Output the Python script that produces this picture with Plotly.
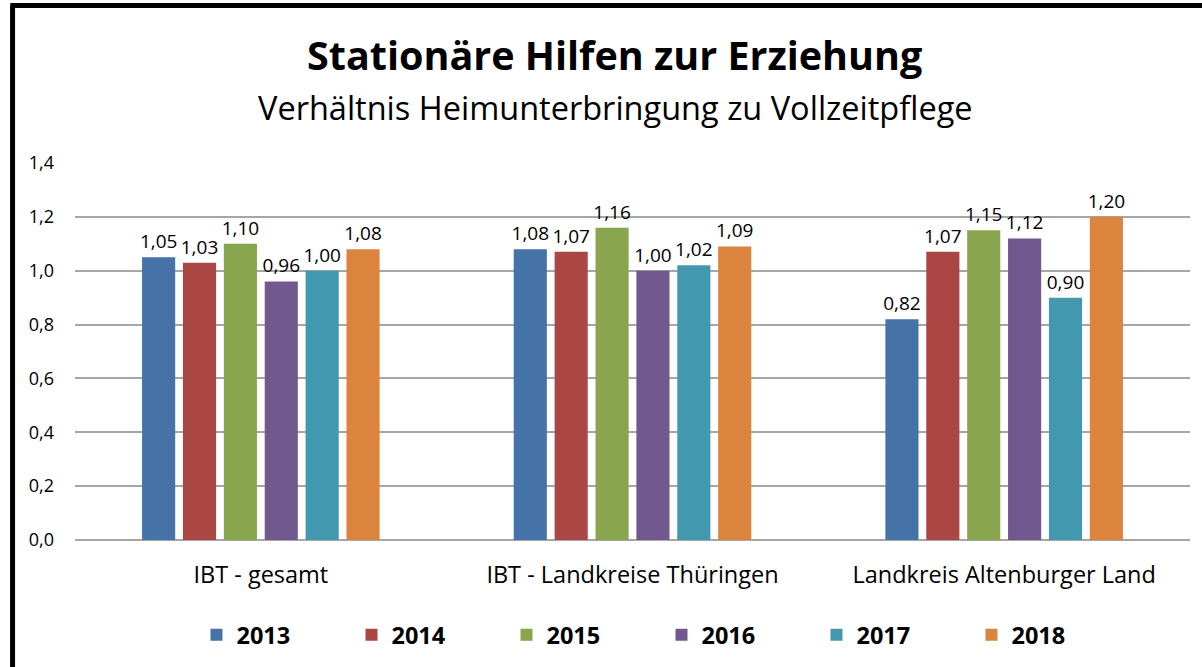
import plotly.graph_objects as go

categories = ["IBT - gesamt", "IBT - Landkreise Thüringen", "Landkreis Altenburger Land"]
years = ["2013", "2014", "2015", "2016", "2017", "2018"]
values = {
    "2013": [1.05, 1.08, 0.82],
    "2014": [1.03, 1.07, 1.07],
    "2015": [1.10, 1.16, 1.15],
    "2016": [0.96, 1.00, 1.12],
    "2017": [1.00, 1.02, 0.90],
    "2018": [1.08, 1.09, 1.20],
}
colors = {"2013": "#4572A7", "2014": "#AA4643", "2015": "#89A54E",
          "2016": "#71588F", "2017": "#4198AF", "2018": "#DB843D"}
y_ticks = [0, 0.2, 0.4, 0.6, 0.8, 1.0, 1.2, 1.4]

font = "Open Sans, Noto Sans, sans-serif"

fig = go.Figure()
for yr in years:
    vals = values[yr]
    fig.add_trace(go.Bar(
        x=categories, y=vals, name=f"<b>{yr}</b>",
        marker=dict(color=colors[yr], line=dict(width=0)),
        text=[f"{v:.2f}".replace(".", ",") for v in vals],
        textposition="outside", cliponaxis=False, constraintext="none",
        textfont=dict(size=19, color="#000000", family=font),
    ))

fig.update_layout(
    width=1202, height=667,
    barmode="group", bargap=0.34, bargroupgap=0.19,
    paper_bgcolor="white", plot_bgcolor="white",
    margin=dict(l=75, r=12, t=163, b=127, autoexpand=False),
    font=dict(family=font, color="#000000"),
    xaxis=dict(tickfont=dict(size=23.5, family=font), showline=False, ticks="",
               ticklabelstandoff=18, automargin=False),
    yaxis=dict(
        range=[0, 1.4], tickvals=y_ticks,
        ticktext=[f"{t:.1f}".replace(".", ",") for t in y_ticks],
        tickfont=dict(size=18, family=font),
        showgrid=True, gridcolor="#a6a6a6", gridwidth=1.5,
        zeroline=True, zerolinecolor="#a6a6a6", zerolinewidth=1.5,
        ticklabelstandoff=20, automargin=False,
    ),
    legend=dict(
        orientation="h", x=0.526, xanchor="center", y=-0.252, yanchor="middle",
        font=dict(size=23.5, family=font, color="#000000"),
        itemwidth=30, traceorder="normal", entrywidth=110,
    ),
    showlegend=True,
)

fig.add_annotation(text="<b>Stationäre Hilfen zur Erziehung</b>", xref="paper", yref="paper",
                   x=0.484, y=1.2865, xanchor="center", yanchor="middle", showarrow=False,
                   font=dict(size=39.5, family=font, color="#000000"))
fig.add_annotation(text="Verhältnis Heimunterbringung zu Vollzeitpflege", xref="paper", yref="paper",
                   x=0.485, y=1.146, xanchor="center", yanchor="middle", showarrow=False,
                   font=dict(size=32.5, family=font, color="#000000"))

# black frame (left + top)
fig.add_shape(type="line", xref="paper", yref="paper",
              x0=-0.056, x1=-0.056, y0=1.4178, y1=-0.5,
              line=dict(color="black", width=5))
fig.add_shape(type="line", xref="paper", yref="paper",
              x0=-0.058, x1=1.05, y0=1.4178, y1=1.4178,
              line=dict(color="black", width=5))

# page body margin removed so the figure sits at the window's top-left corner
fig.write_html("out.html", config={"displayModeBar": False},
               post_script="document.body.style.margin='0px';")
